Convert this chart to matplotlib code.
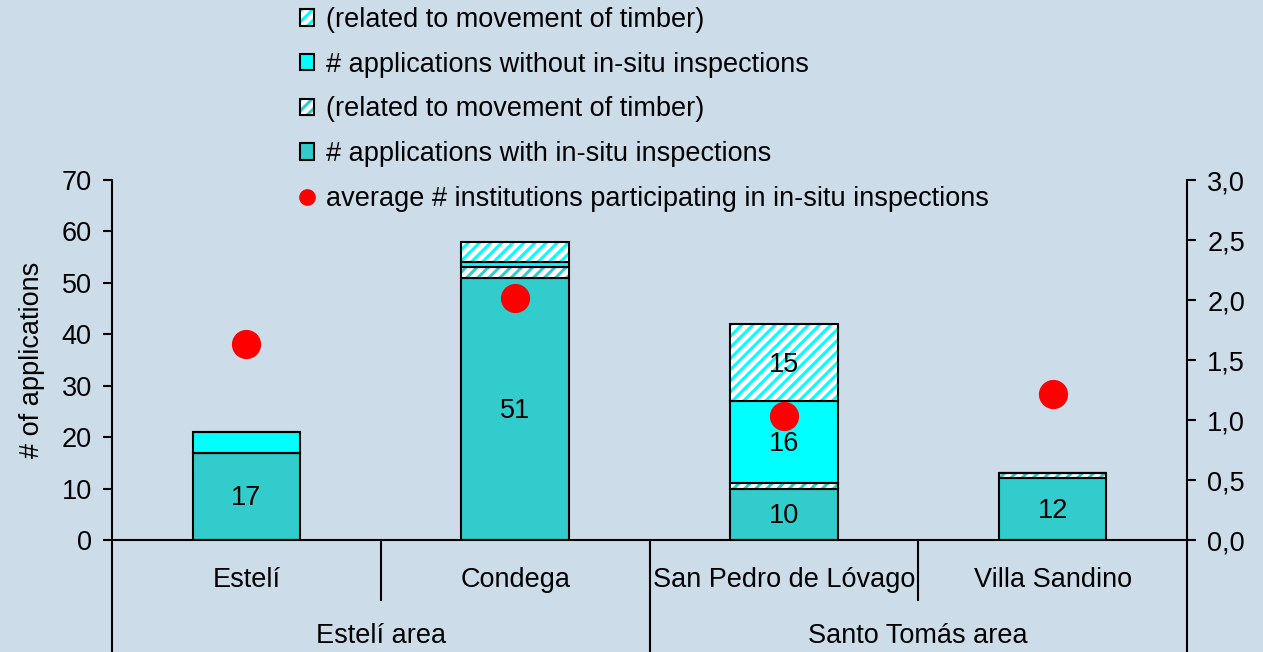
import matplotlib
matplotlib.use('Agg')
import matplotlib.pyplot as plt
from matplotlib.patches import Patch
from matplotlib.lines import Line2D
from matplotlib.ticker import FuncFormatter
import numpy as np

plt.rcParams['font.family'] = ['Liberation Sans', 'DejaVu Sans']
plt.rcParams['hatch.linewidth'] = 2.2

# data
places = ['Estelí', 'Condega', 'San Pedro de Lóvago', 'Villa Sandino']
areas = ['Estelí area', 'Santo Tomás area']
with_insp = [17, 51, 10, 12]
with_timber = [0, 2, 1, 1]
without_insp = [4, 1, 16, 0]
without_timber = [0, 4, 15, 0]
avg_inst = [1.63, 2.02, 1.03, 1.22]

bg = '#CCDDE9'
teal = '#33CCCC'
cyan = '#00FFFF'

fig = plt.figure(figsize=(12.63, 6.52), dpi=100, facecolor=bg)
ax = fig.add_axes([112/1263, 1-540/652, 1075/1263, 360/652])
ax.set_facecolor(bg)

x = np.arange(len(places)) + 0.5
w = 0.4
fs = 19.5
elw = 1.5


def plain(vals, bottom, color):
    ax.bar(x, vals, w, bottom=bottom, color=color, edgecolor='black', linewidth=elw, zorder=2)


def hatched(vals, bottom, color):
    ax.bar(x, vals, w, bottom=bottom, color='white', edgecolor=color, hatch='///', linewidth=0, zorder=2)
    ax.bar(x, vals, w, bottom=bottom, color='none', edgecolor='black', linewidth=elw, zorder=3)


b = np.zeros(len(places))
plain(with_insp, b, teal)
lab1 = b + np.array(with_insp) / 2
b = b + np.array(with_insp)
hatched(with_timber, b, teal)
b = b + np.array(with_timber)
plain(without_insp, b, cyan)
lab2 = b + np.array(without_insp) / 2
b = b + np.array(without_insp)
hatched(without_timber, b, cyan)
lab3 = b + np.array(without_timber) / 2

# only the big segments carry a number
for vals, ys in [(with_insp, lab1), (without_insp, lab2), (without_timber, lab3)]:
    for xi, v, yi in zip(x, vals, ys):
        if v >= 10:
            ax.text(xi, yi - 0.4, str(v), ha='center', va='center', fontsize=fs, zorder=5)

ax.set_xlim(0, 4)
ax.set_ylim(0, 70)
ax.set_yticks(range(0, 71, 10))
ax.set_xticks([])
ax.tick_params(axis='y', labelsize=fs, direction='out', length=6.5, width=1.5, pad=8)
ax.set_ylabel('# of applications', fontsize=fs, labelpad=12)
for s in ['top', 'right']:
    ax.spines[s].set_visible(False)
ax.spines['left'].set_linewidth(1.5)
ax.spines['bottom'].set_linewidth(1.5)

ax2 = ax.twinx()
ax2.set_ylim(0, 3.0)
ax2.set_yticks(np.arange(0, 3.01, 0.5))
ax2.yaxis.set_major_formatter(FuncFormatter(lambda v, p: ('%.1f' % v).replace('.', ',')))
ax2.tick_params(axis='y', labelsize=fs, direction='out', length=6.5, width=1.5, pad=8)
for s in ['top', 'left', 'bottom']:
    ax2.spines[s].set_visible(False)
ax2.spines['right'].set_linewidth(1.5)
ax2.plot(x, avg_inst, 'o', color='red', markersize=20, linestyle='none', zorder=6)

# two level category axis
tr = ax.get_xaxis_transform()
for xv in [0, 2, 4]:
    ax.plot([xv, xv], [0, -0.32], color='black', lw=1.5, transform=tr, clip_on=False)
for xv in [1, 3]:
    ax.plot([xv, xv], [0, -0.167], color='black', lw=1.5, transform=tr, clip_on=False)
for xi, p in zip(x, places):
    ax.text(xi, -0.111, p, ha='center', va='center', fontsize=fs, transform=tr)
for xi, a in zip([1, 3], areas):
    ax.text(xi, -0.267, a, ha='center', va='center', fontsize=fs, transform=tr)

h_wt = (Patch(facecolor='white', edgecolor=teal, hatch='///', linewidth=0),
        Patch(facecolor='none', edgecolor='black', linewidth=1.5))
h_nt = (Patch(facecolor='white', edgecolor=cyan, hatch='///', linewidth=0),
        Patch(facecolor='none', edgecolor='black', linewidth=1.5))
h_w = Patch(facecolor=teal, edgecolor='black', linewidth=1.5)
h_n = Patch(facecolor=cyan, edgecolor='black', linewidth=1.5)
h_d = Line2D([], [], marker='o', color='red', linestyle='none', markersize=11)

fig.legend([h_nt, h_n, h_wt, h_w, h_d],
           ['(related to movement of timber)', '# applications without in-situ inspections',
            '(related to movement of timber)', '# applications with in-situ inspections',
            'average # institutions participating in in-situ inspections'],
           loc='upper left', bbox_to_anchor=(300/1263, 1-7/652), frameon=False,
           fontsize=fs, handlelength=0.5, handleheight=0.55, handletextpad=0.45,
           labelspacing=0.69, borderpad=0, borderaxespad=0)

fig.savefig('out.png', dpi=100, facecolor=bg)
